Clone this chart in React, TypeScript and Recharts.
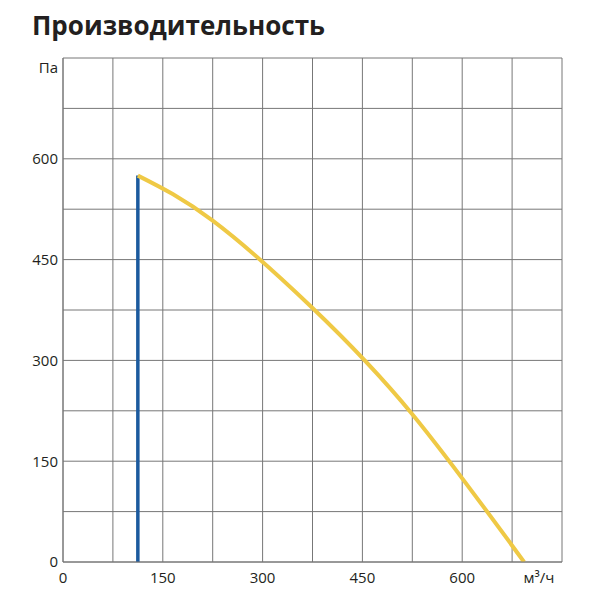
import { CartesianGrid, Line, LineChart, XAxis, YAxis } from "recharts";

// airflow, m³/h
const curveFlow = [112.5, 225, 375, 525, 693];
// static pressure, Pa
const curvePressure = [575, 508, 378, 220, 0];

const minFlow = [112.5, 112.5];
const minPressure = [0, 575];

const flowTicks = [0, 75, 150, 225, 300, 375, 450, 525, 600, 675, 750];
const flowLabels = ["0", "", "150", "", "300", "", "450", "", "600", "", "м³/ч"];
const pressureTicks = [0, 75, 150, 225, 300, 375, 450, 525, 600, 675, 750];
const pressureLabels = ["0", "", "150", "", "300", "", "450", "", "600", "", "Па"];

const curveData = curveFlow.map((q, i) => ({ q, p: curvePressure[i] }));
const minData = minFlow.map((q, i) => ({ q, p: minPressure[i] }));

const textColor = "#231f20";
const font = "'Open Sans', sans-serif";

function FlowTick({ x, y, index }: any) {
  const label = flowLabels[index];
  if (!label) return null;
  const last = index === flowLabels.length - 1;
  return (
    <text x={last ? x - 23 : x} y={y} dy="0.71em" textAnchor="middle" fill={textColor} fontSize={15} fontFamily={font}>
      {label}
    </text>
  );
}

function PressureTick({ x, y, index }: any) {
  const label = pressureLabels[index];
  if (!label) return null;
  const last = index === pressureLabels.length - 1;
  return (
    <text x={x} y={last ? y + 10 : y} dy="0.355em" textAnchor="end" fill={textColor} fontSize={15} fontFamily={font}>
      {label}
    </text>
  );
}

export default function App() {
  return (
    <div style={{ position: "absolute", left: 0, top: 0, width: 600, height: 600, background: "#fff" }}>
      <div
        style={{
          position: "absolute",
          left: 32,
          top: 7,
          fontFamily: font,
          fontWeight: 700,
          fontSize: 26,
          color: textColor,
          whiteSpace: "nowrap",
        }}
      >
        Производительность
      </div>
      <LineChart
        width={600}
        height={600}
        margin={{ top: 58, right: 38, bottom: 0, left: 0 }}
        style={{ position: "absolute", left: 0, top: 0 }}
      >
        <CartesianGrid stroke="#777" strokeWidth={1} />
        <XAxis
          dataKey="q"
          type="number"
          domain={[0, 750]}
          ticks={flowTicks}
          height={38}
          tickLine={false}
          tickSize={0}
          tickMargin={10}
          axisLine={{ stroke: "#777" }}
          tick={<FlowTick />}
          allowDataOverflow
        />
        <YAxis
          type="number"
          domain={[0, 750]}
          ticks={pressureTicks}
          width={63}
          tickLine={false}
          tickSize={0}
          tickMargin={5}
          axisLine={{ stroke: "#777" }}
          tick={<PressureTick />}
          allowDataOverflow
        />
        <Line
          data={minData}
          dataKey="p"
          type="linear"
          stroke="#1b5a9e"
          strokeWidth={3.5}
          dot={false}
          isAnimationActive={false}
        />
        <Line
          data={curveData}
          dataKey="p"
          type="natural"
          stroke="#efc945"
          strokeWidth={4}
          dot={false}
          isAnimationActive={false}
        />
      </LineChart>
    </div>
  );
}
